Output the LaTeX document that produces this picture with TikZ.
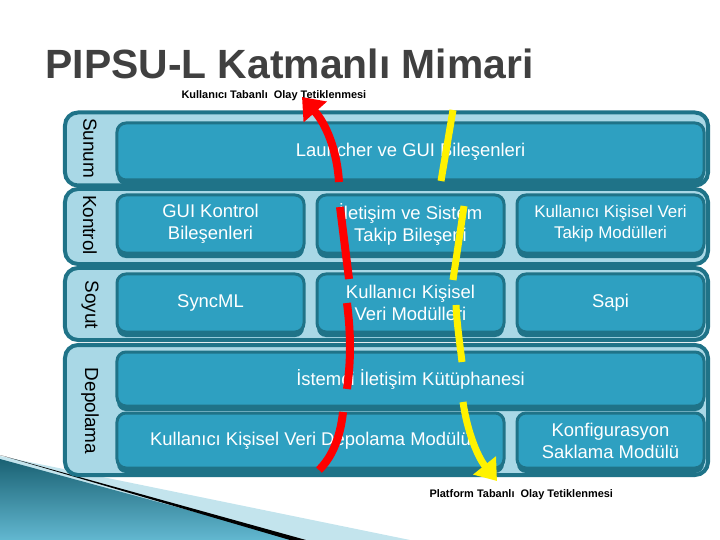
\documentclass[tikz,border=0pt]{standalone}
\usepackage{fontspec}
\setmainfont{Liberation Sans}
\usetikzlibrary{arrows.meta,shapes,shadows}

\definecolor{koyu}{HTML}{1F7388}
\definecolor{acik}{HTML}{A9D8E6}
\definecolor{orta}{HTML}{2EA0C1}
\definecolor{baslikgri}{HTML}{404040}

\tikzset{
  katman/.style={draw=koyu, line width=4bp, fill=acik, rounded corners=13bp},
  modul/.style={draw=koyu, line width=3bp, fill=orta, rounded corners=9bp,
    text=white, align=center, inner sep=0pt, font=\fontsize{18.5}{22}\selectfont,
    drop shadow={shadow xshift=0bp, shadow yshift=-5bp, fill=koyu, opacity=1}},
  etiket/.style={rotate=-90, font=\fontsize{19}{22}\selectfont},
  olay/.style={anchor=base west, font=\bfseries\fontsize{11}{13}\selectfont},
  kirmizi/.style={draw=red, line width=8bp},
  sari/.style={draw=yellow, line width=7bp},
}

\begin{document}
\begin{tikzpicture}[x=1bp, y=-1bp]
      \useasboundingbox (0,0) rectangle (720,540);
      % kose suslemesi
      \fill [acik!70!white] (0,456) -- (410,540) -- (0,540) -- cycle;
      \shade [top color=koyu!85!black, bottom color=orta!75!white] (0,459) -- (298,540) -- (0,540) -- cycle;
      \fill [black] (0,455) -- (306,540) -- (290,540) -- cycle;
      % baslik
      \node [anchor=base west, text=baslikgri, font=\bfseries\fontsize{41}{45}\selectfont] (baslik) at (42,79) {PIPSU-L Katmanlı Mimari};
      \node [olay] (kullaniciolay) at (178,99) {Kullanıcı Tabanlı\ \ Olay Tetiklenmesi};
      \node [olay] (platformolay) at (426,497) {Platform Tabanlı\ \ Olay Tetiklenmesi};
      % katmanlar
      \node [katman, minimum width=643bp, minimum height=73bp] (sunum) at (386.5,149) {};
      \node [katman, minimum width=643bp, minimum height=75bp] (kontrol) at (386.5,226.5) {};
      \node [katman, minimum width=643bp, minimum height=72bp] (soyut) at (386.5,304) {};
      \node [katman, minimum width=643bp, minimum height=130bp] (depolama) at (386.5,410) {};
      \node [etiket] (sunumad) at (90,148) {Sunum};
      \node [etiket] (kontrolad) at (90,225) {Kontrol};
      \node [etiket] (soyutad) at (90,305) {Soyut};
      \node [etiket] (depolamaad) at (90,411) {Depolama};
      % moduller
      \node [modul, minimum width=587bp, minimum height=57bp] (launcher) at (410.5,151.5) {Launcher ve GUI Bileşenleri};
      \node [modul, minimum width=187bp, minimum height=58bp] (guikontrol) at (210.5,224) {GUI Kontrol\\Bileşenleri};
      \node [modul, minimum width=187bp, minimum height=58bp] (iletisim) at (410.5,224) {İletişim ve Sistem\\Takip Bileşeni};
      \node [modul, minimum width=187bp, minimum height=58bp, font=\fontsize{17}{21}\selectfont] (veritakip) at (610.5,224) {Kullanıcı Kişisel Veri\\Takip Modülleri};
      \node [modul, minimum width=187bp, minimum height=58bp] (syncml) at (210.5,303) {SyncML};
      \node [modul, minimum width=187bp, minimum height=58bp] (verimodul) at (410.5,303) {Kullanıcı Kişisel\\Veri Modülleri};
      \node [modul, minimum width=187bp, minimum height=58bp] (sapi) at (610.5,303) {Sapi};
      \node [modul, minimum width=587bp, minimum height=54bp] (istemci) at (410.5,379) {İstemci İletişim Kütüphanesi};
      \node [modul, minimum width=387bp, minimum height=55bp] (veridepo) at (310.5,440.5) {Kullanıcı Kişisel Veri Depolama Modülü};
      \node [modul, minimum width=187bp, minimum height=55bp] (konfig) at (610.5,440.5) {Konfigurasyon\\Saklama Modülü};
      % kullanici tabanli olay (kirmizi)
      \coordinate (k0) at (302,97);
      \coordinate (k1) at (339,182);
      \coordinate (k2) at (340,207);
      \coordinate (k3) at (349,279);
      \coordinate (k4) at (347,303);
      \coordinate (k5) at (347,389);
      \coordinate (k6) at (343,412);
      \coordinate (k7) at (319,470);
      \draw [kirmizi, -{Triangle[length=20bp, width=30bp]}] (k1) .. controls (337,150) and (326,124) .. (k0);
      \draw [kirmizi] (k2) -- (k3);
      \draw [kirmizi] (k4) .. controls (351,335) and (351,360) .. (k5);
      \draw [kirmizi] (k6) .. controls (340,440) and (331,458) .. (k7);
      % platform tabanli olay (sari)
      \coordinate (s0) at (453,110);
      \coordinate (s1) at (441,181);
      \coordinate (s2) at (464,206);
      \coordinate (s3) at (453,280);
      \coordinate (s4) at (456,305);
      \coordinate (s5) at (462,362);
      \coordinate (s6) at (463,402);
      \coordinate (s7) at (497,481);
      \draw [sari] (s0) -- (s1);
      \draw [sari] (s2) -- (s3);
      \draw [sari] (s4) .. controls (457,325) and (460,345) .. (s5);
      \draw [sari, -{Triangle[length=20bp, width=28bp]}] (s6) .. controls (467,430) and (477,456) .. (s7);
\end{tikzpicture}
\end{document}
